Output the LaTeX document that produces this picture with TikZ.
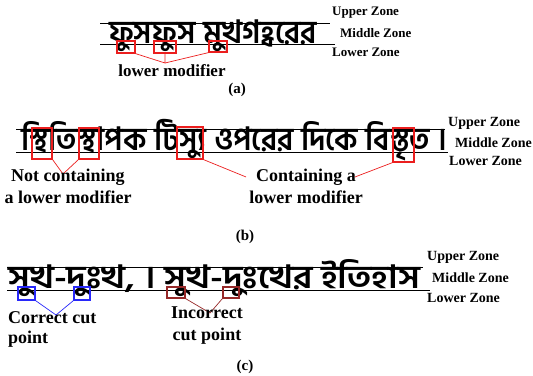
\documentclass[tikz,border=0pt]{standalone}
\usepackage{fontspec}
\setmainfont{Liberation Serif}
\newfontfamily\bangla[Script=Bengali]{Hind Siliguri}
\usetikzlibrary{positioning}
\definecolor{modred}{RGB}{235,30,30}
\definecolor{cutblue}{RGB}{40,40,250}
\definecolor{cutbrown}{RGB}{150,40,40}
% bangla line stretched to the width it has in the scan
\newcommand{\wordline}[2]{\resizebox{#1pt}{\height}{#2}}
\begin{document}
\begin{tikzpicture}[x=1pt, y=-1pt,
    zone_line/.style={line width=0.9pt},
    zone_label/.style={anchor=west, inner sep=0pt, font=\fontsize{14}{14}\selectfont\bfseries},
    word_text/.style={anchor=base west, inner sep=0pt, font=\bangla\bfseries\fontsize{32}{32}\selectfont},
    mod_box/.style={rectangle, draw, line width=1.3pt, inner sep=0pt},
    caption_text/.style={inner sep=0pt, align=center, font=\fontsize{18}{22}\selectfont\bfseries},
    sub_label/.style={inner sep=0pt, font=\fontsize{15}{15}\selectfont\bfseries},
    link/.style={line width=0.7pt}
]
\useasboundingbox (0,0) rectangle (533,375);

% (a)
\draw[zone_line] (100,23) -- (330,23);
\draw[zone_line] (100,44) -- (335,44);
\node[word_text] (wa) at (109,43) {\wordline{208}{ফুসফুস মুখগহ্বরের}};
\node[zone_label, font=\fontsize{13}{13}\selectfont\bfseries] (ua) at (332,13) {Upper Zone};
\node[zone_label, font=\fontsize{13}{13}\selectfont\bfseries] (ma) at (340,33) {Middle Zone};
\node[zone_label, font=\fontsize{13}{13}\selectfont\bfseries] (la) at (332,52) {Lower Zone};
\node[mod_box, modred, minimum width=18, minimum height=12] (am1) at (126,47) {};
\node[mod_box, modred, minimum width=22, minimum height=12] (am2) at (165,47) {};
\node[mod_box, modred, minimum width=18, minimum height=11] (am3) at (218,46.5) {};
\coordinate (aj) at (165,63);
\draw[link, modred] (am1.south east) -- (aj) -- (am2.south);
\draw[link, modred] (am3.south west) -- (aj);
\node[caption_text, anchor=base, font=\fontsize{17}{17}\selectfont\bfseries] (lm) at (172,76) {lower modifier};
\node[sub_label, anchor=base] (sa) at (237,93) {(a)};

% (b)
\draw[zone_line] (16,129) -- (445,129);
\draw[zone_line] (16,152) -- (448,152);
\node[word_text] (wb) at (21,150) {\wordline{426}{স্থিতিস্থাপক টিস্যু ওপরের দিকে বিস্তৃত ।}};
\node[zone_label] (ub) at (448,123) {Upper Zone};
\node[zone_label] (mb) at (455,143) {Middle Zone};
\node[zone_label] (lb) at (449,161) {Lower Zone};
\node[mod_box, modred, minimum width=20, minimum height=31] (bm1) at (42,143.5) {};
\node[mod_box, modred, minimum width=20, minimum height=31] (bm2) at (89,143.5) {};
\node[mod_box, modred, minimum width=26, minimum height=32] (bm3) at (190,143) {};
\node[mod_box, modred, minimum width=21, minimum height=34] (bm4) at (403.5,145) {};
\coordinate (bj) at (63,174);
\draw[link, modred] (bm1.south east) -- (bj) -- (bm2.south west);
\node[caption_text, anchor=north] (nc) at (68,169) {Not containing\\a lower modifier};
\node[caption_text, anchor=north] (cc) at (306,169) {Containing a\\lower modifier};
\draw[link, modred] (bm3.south east) -- ([xshift=-3pt, yshift=-8pt]cc.north west);
\draw[link, modred] (bm4.south west) -- ([xshift=-8pt, yshift=-8pt]cc.north east);
\node[sub_label, anchor=base] (sb) at (245,240) {(b)};

% (c)
\draw[zone_line] (7,267) -- (423,267);
\draw[zone_line] (7,290) -- (430,290);
\node[word_text] (wc) at (8,288) {\wordline{412}{সুখ-দুঃখ, । সুখ-দুঃখের ইতিহাস}};
\node[zone_label] (uc) at (427,257) {Upper Zone};
\node[zone_label] (mc) at (432,278) {Middle Zone};
\node[zone_label] (lc) at (427,298) {Lower Zone};
\node[mod_box, cutblue, minimum width=17, minimum height=13] (cb1) at (26.5,293.5) {};
\node[mod_box, cutblue, minimum width=16, minimum height=13] (cb2) at (82,293.5) {};
\coordinate (cj) at (56,315);
\draw[link, cutblue] (cb1.south east) -- (cj) -- (cb2.south west);
\node[caption_text, anchor=north west, align=left, font=\fontsize{18}{20}\selectfont\bfseries] (ct) at (8,311) {Correct cut\\point};
\node[mod_box, cutbrown, minimum width=18, minimum height=11] (cr1) at (176,292.5) {};
\node[mod_box, cutbrown, minimum width=16, minimum height=11] (cr2) at (231,292.5) {};
\coordinate (rj) at (210,313);
\draw[link, cutbrown] (cr1.south east) -- (rj) -- (cr2.south west);
\node[caption_text, anchor=north] (ic) at (207,307) {Incorrect\\cut point};
\node[sub_label, anchor=base] (sc) at (245,370) {(c)};
\end{tikzpicture}
\end{document}
